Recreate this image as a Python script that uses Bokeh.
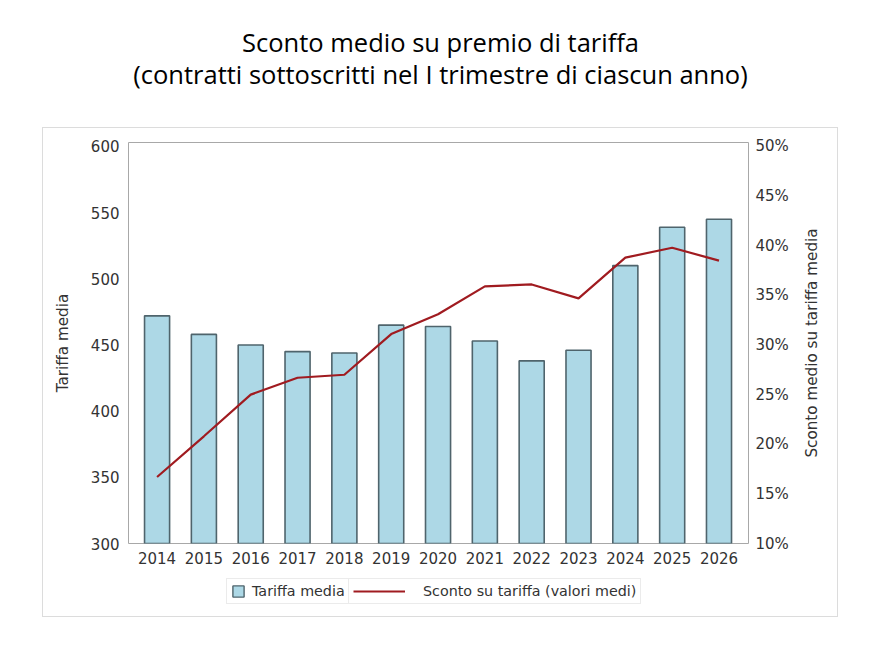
import math
from bokeh.plotting import figure
from bokeh.models import (Range1d, LinearAxis, FixedTicker, PrintfTickFormatter,
                          Legend, LegendItem, Label, Spacer)
from bokeh.layouts import column, row
from bokeh.embed import file_html
from bokeh.resources import INLINE

# ---- data ----
years = [2014, 2015, 2016, 2017, 2018, 2019, 2020, 2021, 2022, 2023, 2024, 2025, 2026]
tariffa_media = [472, 458, 450, 445, 444, 465, 464, 453, 438, 446, 510, 539, 545]
sconto_pct = [16.7, 20.8, 25.0, 26.7, 27.0, 31.1, 33.1, 35.9, 36.1, 34.7, 38.8, 39.8, 38.5]
left_ticks = [300, 350, 400, 450, 500, 550, 600]
right_ticks = [10, 15, 20, 25, 30, 35, 40, 45, 50]
title_line1 = "Sconto medio su premio di tariffa"
title_line2 = "(contratti sottoscritti nel I trimestre di ciascun anno)"
right_axis_title = "Sconto medio su tariffa media"

FONT = "DejaVu Sans"
BAR_FILL = "#add8e6"
BAR_LINE = "#4f646c"
LINE_COLOR = "#a01b20"

# ---- title figure ----
TH = 127
tf = figure(width=876, height=TH, x_range=Range1d(0, 876), y_range=Range1d(0, TH),
            x_axis_location=None, y_axis_location=None, toolbar_location=None,
            output_backend="svg", min_border=0, outline_line_color=None)
tf.grid.visible = False
tf.add_layout(Label(x=440, y=86, text=title_line1, text_font="Open Sans",
                    text_font_size="25.5px", text_color="#000000",
                    text_align="center", text_baseline="alphabetic"))
tf.add_layout(Label(x=440, y=54, text=title_line2, text_font="Open Sans",
                    text_font_size="25.5px", text_color="#000000",
                    text_align="center", text_baseline="alphabetic"))

# ---- chart figure ----
CW = 794
RW = 40
CH = 443
p = figure(width=CW - RW, height=CH,
           min_border_left=85, min_border_right=49, min_border_top=14, min_border_bottom=28,
           x_range=Range1d(2013.39, 2026.63), y_range=Range1d(300, 603),
           toolbar_location=None, output_backend="svg",
           outline_line_color="#a8a8a8", outline_line_width=1)
p.grid.visible = False
p.extra_y_ranges = {"pct": Range1d(10, 50.4)}

bars = p.vbar(x=years, top=tariffa_media, bottom=300, width=0.535,
              fill_color=BAR_FILL, line_color=BAR_LINE, line_width=1.6)
line = p.line(x=years, y=sconto_pct, y_range_name="pct", line_color=LINE_COLOR, line_width=2.2)

xa = p.xaxis[0]
xa.ticker = FixedTicker(ticks=years)
ya = p.yaxis[0]
ya.ticker = FixedTicker(ticks=left_ticks)
ya.axis_label = "Tariffa media"

ra = LinearAxis(y_range_name="pct", ticker=FixedTicker(ticks=right_ticks),
                formatter=PrintfTickFormatter(format="%d%%"))
p.add_layout(ra, "right")

for ax in (xa, ya, ra):
    ax.axis_line_color = None
    ax.major_tick_line_color = None
    ax.minor_tick_line_color = None
    ax.major_tick_out = 0
    ax.major_tick_in = 0
    ax.minor_tick_out = 0
    ax.major_label_text_font = FONT
    ax.major_label_text_font_size = "15px"
    ax.major_label_text_color = "#333333"
    ax.axis_label_text_font = FONT
    ax.axis_label_text_font_size = "15.2px"
    ax.axis_label_text_font_style = "normal"
    ax.axis_label_text_color = "#333333"

xa.major_label_standoff = 8
ya.major_label_standoff = 9
ra.major_label_standoff = 7
ya.axis_label_standoff = 16

# ---- right-hand axis title strip (reads bottom-to-top) ----
rf = figure(width=RW, height=CH, x_range=Range1d(0, 1), y_range=Range1d(0, 1),
            x_axis_location=None, y_axis_location=None, toolbar_location=None,
            output_backend="svg", min_border=0, outline_line_color=None)
rf.grid.visible = False
rf.add_layout(Label(x=0.37, y=0.5, text=right_axis_title, angle=math.pi / 2,
                    text_font=FONT, text_font_size="15.2px", text_color="#333333",
                    text_align="center", text_baseline="middle"))

# ---- legend strip (inside the same box) ----
LH = 45
lf = figure(width=CW, height=LH, x_range=Range1d(-700, -80), y_range=Range1d(-50, -5),
            x_axis_location=None, y_axis_location=None, toolbar_location=None,
            output_backend="svg", min_border=0, min_border_left=85,
            outline_line_color=None)
lf.grid.visible = False
# legend glyph sources (hidden; only their legend swatches are shown)
lg_bars = lf.vbar(x=years, top=tariffa_media, bottom=300, width=0.535,
                  fill_color=BAR_FILL, line_color=BAR_LINE, line_width=1.4, visible=False)
lg_line = lf.line(x=years, y=sconto_pct, line_color=LINE_COLOR, line_width=2.2, visible=False)

common = dict(orientation="horizontal", label_text_font=FONT, label_text_font_size="14.3px",
              label_text_color="#333333", padding=4, margin=0, label_height=14,
              border_line_color="#d8d8d8", background_fill_color="white",
              inactive_fill_alpha=0.0)
legend_a = Legend(items=[LegendItem(label="Tariffa media", renderers=[lg_bars])],
                  location=(98, 12), glyph_width=14, glyph_height=14, label_standoff=7,
                  **common)
legend_b = Legend(items=[LegendItem(label="Sconto su tariffa (valori medi)", renderers=[lg_line])],
                  location=(220, 12), glyph_width=52, glyph_height=14, label_standoff=18,
                  **common)
lf.add_layout(legend_a)
lf.add_layout(legend_b)

box = column(row(p, rf), lf, styles={"border": "1px solid #dcdcdc"})
layout = column(tf, row(Spacer(width=42), box))

open("out.html", "w").write(file_html(layout, INLINE))
